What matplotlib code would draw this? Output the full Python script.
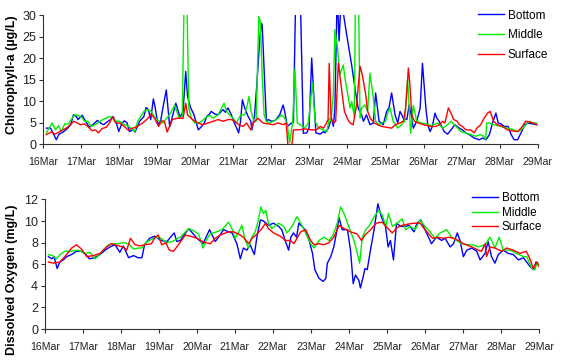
import numpy as np
import matplotlib
matplotlib.use("Agg")
import matplotlib.pyplot as plt

# x values are days after 16 Mar 00:00
day_labels = ["16Mar", "17Mar", "18Mar", "19Mar", "20Mar", "21Mar", "22Mar",
              "23Mar", "24Mar", "25Mar", "26Mar", "27Mar", "28Mar", "29Mar"]
series_names = ["Bottom", "Middle", "Surface"]

# ---- Chlorophyll-a (ug/L)
chl_bottom_t = [0.09, 0.2, 0.35, 0.42, 0.53, 0.64, 0.73, 0.8, 0.88, 0.92, 1.03, 1.12, 1.22, 1.36, 1.43,
                1.51, 1.59, 1.71, 1.78, 1.84, 1.93, 1.99, 2.08, 2.14, 2.21, 2.27, 2.36, 2.42, 2.54, 2.65,
                2.71, 2.77, 2.83, 2.9, 2.95, 3.02, 3.09, 3.15, 3.24, 3.33, 3.49, 3.6, 3.68, 3.75, 3.8,
                3.88, 3.96, 4.03, 4.08, 4.17, 4.24, 4.3, 4.38, 4.42, 4.51, 4.6, 4.73, 4.79, 4.86, 4.95,
                5.01, 5.08, 5.14, 5.19, 5.24, 5.3, 5.39, 5.46, 5.49, 5.56, 5.62, 5.7, 5.74, 5.76, 5.87,
                5.92, 6.01, 6.1, 6.22, 6.31, 6.35, 6.42, 6.53, 6.58, 6.64, 6.76, 6.84, 6.93, 6.99, 7.06,
                7.17, 7.28, 7.37, 7.41, 7.5, 7.58, 7.63, 7.67, 7.73, 7.78, 7.84, 7.9, 7.98, 8.11, 8.21,
                8.28, 8.37, 8.42, 8.5, 8.59, 8.68, 8.74, 8.83, 8.94, 9.03, 9.09, 9.16, 9.25, 9.32, 9.38,
                9.47, 9.56, 9.62, 9.69, 9.73, 9.82, 9.91, 9.97, 10.06, 10.11, 10.17, 10.23, 10.3, 10.35,
                10.41, 10.54, 10.63, 10.72, 10.82, 10.94, 11.02, 11.11, 11.2, 11.33, 11.46, 11.55, 11.64,
                11.73, 11.81, 11.9, 11.96, 12.03, 12.12, 12.22, 12.3, 12.38, 12.47, 12.56, 12.66, 12.73,
                12.86, 12.97]
chl_bottom = [3.7, 3.7, 1.0, 2.3, 2.8, 3.6, 4.5, 6.8, 6.4, 5.7, 6.7, 5.3, 3.9, 4.9, 5.5,
              4.9, 4.5, 5.3, 5.7, 6.4, 4.9, 2.9, 4.9, 5.4, 4.9, 2.9, 3.3, 2.8, 5.3, 6.4,
              8.5, 8.0, 5.7, 10.5, 8.4, 4.5, 5.3, 8.4, 12.6, 4.0, 9.5, 6.3, 7.5, 16.9, 11.0,
              8.4, 7.0, 4.9, 3.3, 4.1, 4.9, 6.4, 7.0, 7.6, 7.0, 6.8, 8.0, 7.4, 8.4, 6.8,
              5.3, 3.9, 2.6, 5.3, 10.3, 8.4, 6.4, 5.3, 3.3, 6.8, 14.0, 25.0, 28.1, 27.5, 5.3,
              5.7, 5.3, 5.5, 6.8, 9.1, 7.6, 4.1, 4.9, 5.0, 35, 35, 2.5, 2.6, 3.7, 20.0,
              2.6, 2.3, 2.9, 2.6, 3.7, 6.0, 4.1, 8.4, 35, 24, 35, 30, 25.4, 18.4, 12.2,
              8.4, 6.8, 5.3, 6.8, 4.5, 4.9, 11.9, 5.3, 4.5, 7.6, 8.4, 11.9, 6.8, 4.9, 7.6,
              6.0, 5.7, 9.1, 6.0, 3.7, 5.3, 8.4, 18.8, 8.4, 4.5, 2.9, 4.1, 7.2, 6.0,
              5.3, 2.9, 2.3, 3.3, 4.5, 3.7, 3.3, 2.6, 2.2, 1.4, 1.0, 1.4, 1.0,
              2.2, 4.9, 7.2, 4.9, 4.7, 4.1, 4.1, 2.2, 1.0, 1.0, 2.6, 4.5, 4.9,
              4.7, 4.5]

chl_middle_t = [0.09, 0.24, 0.33, 0.41, 0.48, 0.57, 0.67, 0.74, 0.83, 0.92, 1.02, 1.09, 1.18, 1.27, 1.36,
                1.44, 1.57, 1.75, 1.84, 1.93, 2.01, 2.13, 2.21, 2.32, 2.41, 2.49, 2.65, 2.76, 2.84, 2.98,
                3.15, 3.32, 3.46, 3.58, 3.66, 3.71, 3.78, 3.83, 3.9, 3.99, 4.08, 4.17, 4.25, 4.38, 4.47,
                4.6, 4.67, 4.76, 4.82, 4.91, 5.0, 5.08, 5.2, 5.3, 5.37, 5.41, 5.47, 5.54, 5.6, 5.67,
                5.71, 5.76, 5.81, 5.87, 5.96, 6.05, 6.18, 6.27, 6.35, 6.42, 6.48, 6.56, 6.62, 6.68, 6.76,
                6.88, 6.97, 7.08, 7.15, 7.24, 7.37, 7.46, 7.52, 7.57, 7.63, 7.67, 7.74, 7.8, 7.89, 7.94,
                8.07, 8.11, 8.18, 8.21, 8.29, 8.33, 8.37, 8.46, 8.53, 8.59, 8.68, 8.74, 8.83, 8.9, 9.0,
                9.07, 9.12, 9.2, 9.32, 9.42, 9.5, 9.58, 9.66, 9.73, 9.82, 9.95, 10.13, 10.2, 10.37, 10.5,
                10.63, 10.72, 10.85, 10.98, 11.11, 11.24, 11.37, 11.49, 11.58, 11.63, 11.66, 11.72, 11.85,
                12.03, 12.2, 12.38, 12.47, 12.56, 12.69, 12.78, 12.86, 12.97]
chl_middle = [2.6, 4.9, 3.3, 4.3, 2.8, 4.7, 4.7, 5.7, 6.8, 6.7, 6.2, 5.3, 5.3, 4.1, 4.5,
              4.9, 5.7, 6.4, 6.0, 5.3, 5.3, 4.5, 4.3, 3.7, 2.9, 5.3, 7.6, 8.0, 7.6, 5.7,
              4.9, 6.8, 9.0, 6.0, 6.5, 35, 35, 8.4, 6.0, 4.9, 4.9, 5.3, 6.0, 6.7, 6.0,
              6.8, 8.0, 9.5, 7.6, 6.7, 6.0, 4.9, 6.8, 6.8, 9.1, 11.1, 7.6, 5.3, 5.3, 29.7,
              28.5, 15.9, 6.8, 5.3, 4.9, 5.3, 6.0, 6.8, 6.0, 4.5, 0.3, 5.0, 17.5, 4.9, 4.5,
              3.7, 4.9, 14.2, 5.3, 3.7, 3.3, 2.9, 6.0, 5.3, 12.2, 26.6, 22.3, 16.1, 18.4, 15.0,
              8.4, 9.9, 6.4, 35, 35, 6.0, 8.4, 9.1, 7.6, 16.5, 10.7, 5.3, 4.5, 4.9, 5.3,
              7.6, 8.4, 5.3, 3.7, 4.5, 5.3, 15.0, 2.5, 9.0, 5.3, 4.9, 4.5, 4.3, 4.9, 3.7,
              4.5, 5.3, 4.1, 2.9, 2.6, 2.2, 1.8, 2.2, 1.8, 1.0, 4.9, 4.9, 4.5,
              4.1, 3.7, 3.3, 2.9, 3.3, 4.5, 5.3, 4.9, 4.9]

chl_surface_t = [0.09, 0.22, 0.32, 0.48, 0.61, 0.72, 0.81, 0.9, 0.99, 1.09, 1.18, 1.29, 1.37, 1.46, 1.55,
                 1.66, 1.75, 1.82, 1.91, 2.01, 2.14, 2.23, 2.36, 2.48, 2.62, 2.76, 2.84, 2.93, 3.04, 3.12,
                 3.19, 3.26, 3.4, 3.52, 3.68, 3.75, 3.8, 3.89, 3.99, 4.08, 4.2, 4.34, 4.47, 4.6, 4.73,
                 4.87, 4.95, 5.04, 5.14, 5.26, 5.35, 5.46, 5.52, 5.65, 5.78, 5.91, 6.04, 6.18, 6.31, 6.39,
                 6.45, 6.52, 6.58, 6.71, 6.89, 7.06, 7.19, 7.28, 7.37, 7.45, 7.49, 7.52, 7.57, 7.63, 7.69,
                 7.76, 7.83, 7.92, 8.01, 8.07, 8.15, 8.24, 8.33, 8.39, 8.48, 8.53, 8.6, 8.71, 8.79, 8.9,
                 9.03, 9.16, 9.26, 9.38, 9.47, 9.53, 9.6, 9.64, 9.69, 9.76, 9.86, 10.0, 10.19, 10.32, 10.41,
                 10.5, 10.56, 10.65, 10.72, 10.79, 10.88, 10.94, 11.02, 11.11, 11.24, 11.33, 11.4, 11.5,
                 11.59, 11.68, 11.75, 11.84, 11.94, 12.07, 12.2, 12.3, 12.47, 12.56, 12.68, 12.81, 12.98]
chl_surface = [2.2, 2.8, 2.3, 3.1, 3.7, 4.5, 5.3, 4.9, 4.5, 4.7, 4.1, 3.1, 3.3, 2.6, 3.6,
               3.9, 4.9, 6.3, 4.9, 4.9, 4.1, 3.3, 3.7, 4.1, 4.9, 6.0, 7.0, 6.0, 4.1, 5.4,
               5.3, 2.8, 5.7, 6.0, 6.0, 9.5, 6.8, 6.0, 5.3, 4.9, 4.5, 4.9, 5.3, 5.7, 5.3,
               5.7, 5.7, 5.3, 4.5, 4.1, 4.9, 3.3, 4.9, 6.0, 4.9, 4.7, 4.5, 4.9, 4.5, 4.9,
               -2, -2, 3.3, 3.3, 3.5, 3.3, 3.3, 4.1, 3.7, 4.9, 5.7, 18.8, 6.0, 4.9, 5.3,
               18.8, 13.8, 7.6, 5.7, 4.9, 4.5, 9.1, 18.1, 16.1, 11.5, 7.6, 6.0, 4.9, 4.5, 4.1,
               3.9, 3.7, 4.5, 4.9, 5.3, 8.4, 17.7, 13.8, 6.8, 5.3, 4.9, 4.5, 4.1, 4.1, 4.5,
               5.3, 4.9, 8.4, 7.2, 5.7, 5.3, 4.5, 4.1, 3.3, 3.3, 2.6, 3.7, 4.5,
               6.0, 7.2, 7.6, 5.3, 4.5, 4.1, 3.3, 3.1, 2.9, 3.7, 5.3, 5.1, 4.5]

# ---- Dissolved oxygen (mg/L)
do_bottom_t = [0.09, 0.18, 0.24, 0.32, 0.39, 0.48, 0.57, 0.7, 0.83, 0.96, 1.05, 1.17, 1.3, 1.45, 1.58,
               1.71, 1.84, 1.97, 2.06, 2.2, 2.33, 2.45, 2.55, 2.62, 2.75, 2.89, 3.05, 3.21, 3.4, 3.47,
               3.56, 3.78, 4.0, 4.16, 4.33, 4.48, 4.61, 4.7, 4.83, 4.92, 5.05, 5.14, 5.22, 5.31, 5.4,
               5.47, 5.51, 5.58, 5.67, 5.75, 5.88, 6.01, 6.15, 6.23, 6.32, 6.41, 6.47, 6.54, 6.62, 6.68,
               6.82, 6.95, 7.04, 7.1, 7.21, 7.32, 7.39, 7.43, 7.52, 7.6, 7.67, 7.74, 7.82, 7.96, 8.04,
               8.11, 8.17, 8.26, 8.3, 8.37, 8.42, 8.48, 8.55, 8.66, 8.76, 8.85, 8.96, 9.03, 9.09, 9.17,
               9.25, 9.36, 9.49, 9.58, 9.71, 9.79, 9.89, 10.0, 10.17, 10.3, 10.44, 10.53, 10.66, 10.75,
               10.85, 10.92, 11.01, 11.1, 11.23, 11.36, 11.45, 11.58, 11.66, 11.75, 11.84, 11.93, 12.06,
               12.19, 12.32, 12.46, 12.59, 12.76, 12.85, 12.92, 13.0]
do_bottom = [6.7, 6.5, 6.7, 5.6, 6.2, 6.4, 6.7, 6.9, 7.2, 7.2, 7.0, 6.5, 6.6, 6.9, 7.3,
             7.6, 7.8, 7.1, 7.7, 6.6, 6.8, 6.6, 6.6, 7.8, 8.4, 8.6, 8.2, 8.1, 8.9, 8.1,
             8.2, 9.3, 8.4, 7.9, 9.2, 8.1, 8.7, 9.2, 9.0, 8.9, 7.9, 6.5, 7.5, 7.3, 7.8,
             7.2, 6.9, 8.6, 10.1, 10.0, 9.6, 9.8, 9.5, 9.2, 8.2, 7.3, 8.5, 8.9, 8.5, 9.8,
             9.3, 8.2, 7.0, 5.5, 4.7, 4.4, 4.7, 6.1, 6.7, 7.6, 8.9, 10.3, 9.2, 9.2, 7.3,
             4.2, 5.0, 4.5, 3.8, 4.8, 5.6, 5.5, 7.0, 9.2, 11.6, 10.4, 9.5, 7.6, 8.2, 6.4,
             9.8, 9.5, 9.5, 9.6, 9.0, 9.8, 10.1, 9.2, 7.9, 8.5, 8.2, 8.4, 7.6, 7.9,
             8.9, 8.2, 6.7, 7.3, 7.5, 7.2, 6.4, 7.0, 8.1, 6.7, 6.1, 6.9, 7.3,
             7.0, 6.9, 6.4, 6.6, 5.8, 5.5, 6.2, 5.9]

do_middle_t = [0.09, 0.2, 0.3, 0.4, 0.52, 0.65, 0.87, 1.05, 1.18, 1.32, 1.41, 1.55, 1.68, 1.8, 1.93,
               2.06, 2.2, 2.33, 2.45, 2.55, 2.65, 2.8, 2.93, 3.06, 3.2, 3.35, 3.56, 3.78, 3.91, 4.04,
               4.16, 4.24, 4.35, 4.52, 4.66, 4.83, 4.92, 5.0, 5.1, 5.18, 5.27, 5.36, 5.44, 5.53, 5.61,
               5.68, 5.75, 5.81, 5.88, 5.97, 6.15, 6.28, 6.37, 6.5, 6.63, 6.73, 6.86, 6.99, 7.08, 7.21,
               7.34, 7.47, 7.58, 7.69, 7.78, 7.87, 7.99, 8.13, 8.22, 8.28, 8.35, 8.44, 8.52, 8.66, 8.79,
               8.88, 8.97, 9.04, 9.14, 9.27, 9.4, 9.49, 9.61, 9.74, 9.87, 10.0, 10.13, 10.26, 10.4, 10.57,
               10.7, 10.83, 10.96, 11.14, 11.27, 11.4, 11.58, 11.71, 11.84, 11.95, 12.06, 12.24, 12.41,
               12.59, 12.68, 12.81, 12.89, 12.96, 13.0]
do_middle = [6.9, 6.8, 6.5, 6.9, 7.2, 7.2, 7.3, 7.0, 7.1, 6.5, 6.8, 7.4, 7.8, 7.9, 7.9,
             8.0, 7.9, 7.4, 7.5, 7.5, 8.0, 8.3, 8.5, 8.4, 8.0, 8.1, 8.5, 9.3, 9.1, 8.8,
             7.5, 8.2, 8.8, 9.0, 9.2, 9.9, 9.3, 8.4, 9.0, 9.6, 8.2, 7.5, 8.5, 9.0, 10.0,
             11.3, 10.7, 11.0, 9.8, 9.3, 9.8, 9.5, 8.9, 9.5, 10.4, 9.8, 8.9, 7.9, 7.5, 8.2,
             8.5, 8.2, 8.7, 9.8, 11.3, 10.7, 9.5, 8.2, 7.0, 6.1, 8.5, 9.2, 9.5, 10.4, 11.0,
             10.5, 9.5, 10.7, 9.5, 9.8, 10.2, 9.2, 9.5, 9.2, 10.1, 9.5, 9.0, 8.4, 8.9, 9.2,
             8.5, 8.2, 7.9, 7.8, 7.8, 7.6, 7.8, 8.5, 7.5, 8.5, 7.3, 7.3, 7.0,
             6.7, 6.7, 5.6, 5.5, 6.2, 5.8]

do_surface_t = [0.09, 0.22, 0.39, 0.57, 0.7, 0.83, 0.96, 1.1, 1.27, 1.45, 1.62, 1.75, 1.93, 2.06, 2.15,
                2.25, 2.37, 2.5, 2.63, 2.8, 2.9, 2.98, 3.07, 3.18, 3.27, 3.38, 3.47, 3.69, 3.82, 4.0,
                4.09, 4.22, 4.35, 4.48, 4.61, 4.83, 4.96, 5.09, 5.22, 5.36, 5.45, 5.58, 5.71, 5.8, 5.88,
                6.01, 6.19, 6.33, 6.46, 6.55, 6.73, 6.86, 6.99, 7.08, 7.21, 7.34, 7.47, 7.6, 7.74, 7.87,
                8.04, 8.21, 8.33, 8.42, 8.57, 8.72, 8.87, 9.0, 9.14, 9.27, 9.4, 9.53, 9.71, 9.87, 10.0,
                10.2, 10.33, 10.5, 10.63, 10.75, 10.88, 11.01, 11.23, 11.4, 11.49, 11.58, 11.62, 11.71,
                11.84, 12.02, 12.15, 12.32, 12.5, 12.66, 12.75, 12.85, 12.94, 13.0]
do_surface = [6.2, 6.1, 6.2, 6.9, 7.5, 7.8, 7.4, 6.7, 6.8, 7.0, 7.6, 7.9, 7.7, 7.6, 7.3,
              8.4, 7.8, 7.7, 7.8, 7.9, 8.5, 8.7, 7.8, 8.0, 7.3, 7.2, 7.6, 8.7, 8.6, 8.4,
              8.2, 8.0, 7.9, 8.4, 8.7, 9.0, 9.0, 8.8, 8.5, 7.9, 8.4, 8.8, 9.3, 9.8, 9.3,
              8.9, 8.6, 8.2, 8.2, 7.9, 9.0, 9.2, 8.2, 7.8, 7.9, 7.8, 8.0, 8.5, 9.6, 9.3,
              9.0, 8.8, 8.2, 8.7, 9.2, 9.8, 9.9, 9.4, 8.9, 9.4, 9.6, 9.7, 9.8, 9.8, 9.2,
              8.4, 8.5, 8.4, 8.5, 8.4, 8.2, 7.9, 7.6, 7.3, 7.2, 7.9, 6.7, 7.6,
              7.5, 7.2, 7.5, 7.3, 7.0, 7.2, 6.6, 5.6, 6.2, 5.8]

colors = ["#0000ff", "#00ee00", "#ff0000"]
fam = ["Liberation Sans", "DejaVu Sans"]

fig = plt.figure(figsize=(5.61, 3.61), dpi=100)
ax1 = fig.add_axes([0.0766, 0.601, 0.882, 0.357])
ax2 = fig.add_axes([0.0802, 0.0886, 0.8806, 0.359])


def style(ax, ylim, yticks, ylabel, label_x, label_y):
    ax.set_xlim(0, 13)
    ax.set_ylim(*ylim)
    ax.set_yticks(yticks)
    ax.set_xticks(range(len(day_labels)))
    ax.set_xticklabels(day_labels, family=fam, fontsize=7.6, color="#222222")
    for lab in ax.get_yticklabels():
        lab.set_family(fam)
        lab.set_fontsize(9)
        lab.set_color("#222222")
    for s in ["top", "right"]:
        ax.spines[s].set_visible(False)
    for s in ["left", "bottom"]:
        ax.spines[s].set_color("#333333")
        ax.spines[s].set_linewidth(0.8)
    ax.tick_params(direction="out", length=3, width=0.8, color="#333333", pad=2)
    ax.tick_params(axis="x", pad=6)
    ax.set_ylabel(ylabel, family="Liberation Sans", fontsize=9, fontweight="bold")
    ax.yaxis.set_label_coords(label_x, label_y)


data1 = [(chl_bottom_t, chl_bottom), (chl_middle_t, chl_middle), (chl_surface_t, chl_surface)]
data2 = [(do_bottom_t, do_bottom), (do_middle_t, do_middle), (do_surface_t, do_surface)]

for (t, v), c, name in zip(data1, colors, series_names):
    ax1.plot(t, v, color=c, lw=1.0, label=name)
for (t, v), c, name in zip(data2, colors, series_names):
    ax2.plot(t, v, color=c, lw=1.0, label=name)

style(ax1, (0, 30), range(0, 31, 5), "Chlorophyll-a (\u00b5g/L)", -0.05, 0.535)
style(ax2, (0, 12), range(0, 13, 2), "Dissolved Oxygen (mg/L)", -0.055, 0.38)

ax1.legend(loc="upper left", bbox_to_anchor=(0.87, 1.08), frameon=False,
           prop={"family": fam, "size": 8.5}, handlelength=2.2, handletextpad=0.3,
           labelspacing=0.65, borderaxespad=0)
ax2.legend(loc="upper left", bbox_to_anchor=(0.855, 1.09), frameon=False,
           prop={"family": fam, "size": 8.5}, handlelength=2.2, handletextpad=0.3,
           labelspacing=0.2, borderaxespad=0)

fig.savefig("out.png", dpi=100)
